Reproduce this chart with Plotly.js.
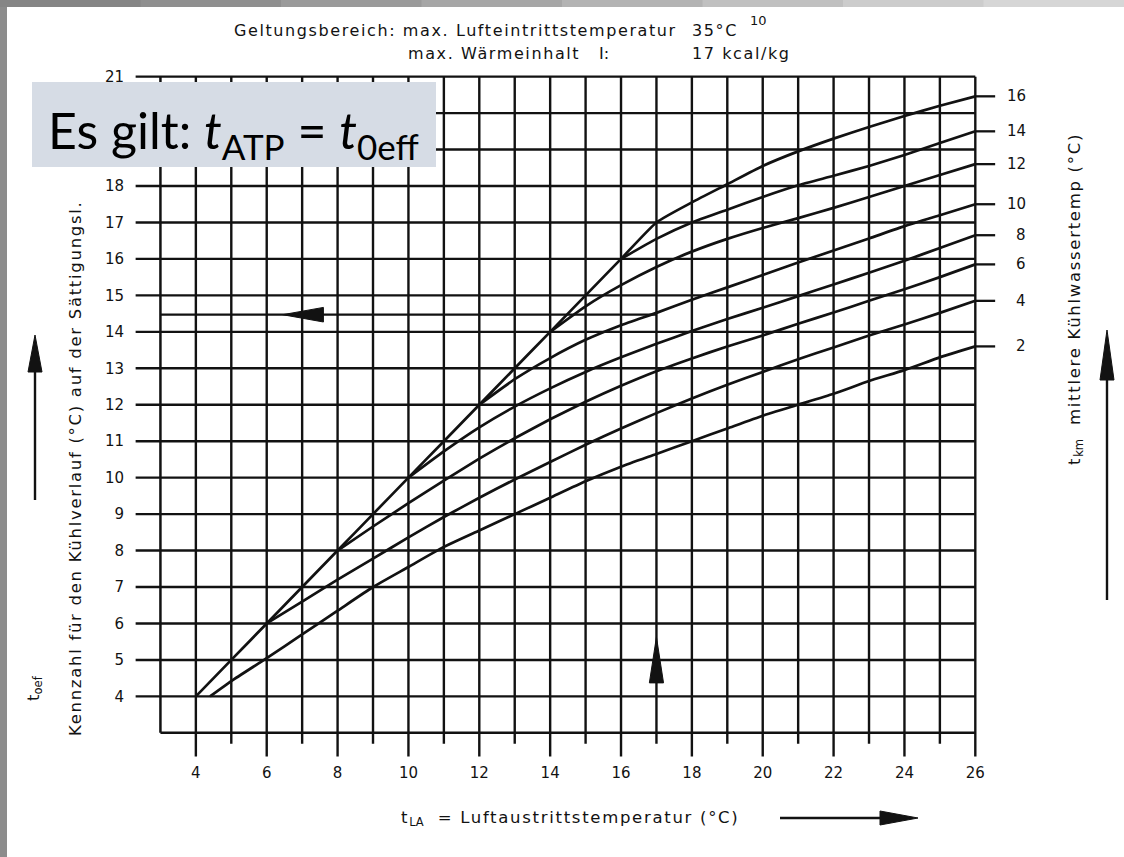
<!DOCTYPE html>
<html>
<head>
<meta charset="utf-8">
<script src="https://cdn.plot.ly/plotly-3.0.1.min.js"></script>
<style>
html,body{margin:0;padding:0;background:#ffffff;}
#chart{width:1124px;height:857px;}
</style>
</head>
<body>
<div id="chart"></div>
<script>
// ---------- data ----------
const xTickVals = [4, 6, 8, 10, 12, 14, 16, 18, 20, 22, 24, 26];
const yTickVals = [4, 5, 6, 7, 8, 9, 10, 11, 12, 13, 14, 15, 16, 17, 18, 21];
const xGridVals = [4, 5, 6, 7, 8, 9, 10, 11, 12, 13, 14, 15, 16, 17, 18, 19, 20, 21, 22, 23, 24, 25, 26];
const yGridVals = [4, 5, 6, 7, 8, 9, 10, 11, 12, 13, 14, 15, 16, 17, 18, 19, 20, 21];
const tkmLabels = [2, 4, 6, 8, 10, 12, 14, 16];

// t_LA (x) and t_oef (y) for each mean cooling-water temperature t_km
const tLA_2  = [4.4, 5, 6, 7, 8, 9, 10, 11, 12, 13, 14, 15, 16, 17, 18, 19, 20, 21, 22, 23, 24, 25, 26];
const tOef_2 = [4.0, 4.42, 5.05, 5.7, 6.35, 7.0, 7.55, 8.1, 8.55, 9.0, 9.45, 9.9, 10.3, 10.65, 11.0, 11.35, 11.7, 12.0, 12.3, 12.65, 12.95, 13.3, 13.6];
const tLA_4  = [6, 7, 8, 9, 10, 11, 12, 13, 14, 15, 16, 17, 18, 19, 20, 21, 22, 23, 24, 25, 26];
const tOef_4 = [6.0, 6.6, 7.2, 7.78, 8.36, 8.92, 9.45, 9.95, 10.43, 10.9, 11.35, 11.77, 12.17, 12.55, 12.9, 13.25, 13.57, 13.9, 14.2, 14.52, 14.85];
const tLA_6  = [8, 9, 10, 11, 12, 13, 14, 15, 16, 17, 18, 19, 20, 21, 22, 23, 24, 25, 26];
const tOef_6 = [8.0, 8.66, 9.3, 9.92, 10.52, 11.08, 11.6, 12.08, 12.52, 12.92, 13.27, 13.6, 13.9, 14.22, 14.53, 14.85, 15.17, 15.5, 15.85];
const tLA_8  = [10, 11, 12, 13, 14, 15, 16, 17, 18, 19, 20, 21, 22, 23, 24, 25, 26];
const tOef_8 = [10.0, 10.72, 11.38, 11.95, 12.45, 12.9, 13.3, 13.67, 14.02, 14.35, 14.66, 14.98, 15.3, 15.62, 15.95, 16.3, 16.65];
const tLA_10  = [12, 13, 14, 15, 16, 17, 18, 19, 20, 21, 22, 23, 24, 25, 26];
const tOef_10 = [12.0, 12.7, 13.28, 13.78, 14.18, 14.52, 14.88, 15.22, 15.56, 15.9, 16.23, 16.56, 16.9, 17.2, 17.5];
const tLA_12  = [14, 15, 16, 17, 18, 19, 20, 21, 22, 23, 24, 25, 26];
const tOef_12 = [14.0, 14.7, 15.28, 15.78, 16.2, 16.55, 16.85, 17.12, 17.4, 17.7, 18.0, 18.3, 18.6];
const tLA_14  = [16, 17, 18, 19, 20, 21, 22, 23, 24, 25, 26];
const tOef_14 = [16.0, 16.55, 17.0, 17.35, 17.7, 18.02, 18.28, 18.55, 18.85, 19.18, 19.5];
const tLA_16  = [4, 5, 6, 7, 8, 9, 10, 11, 12, 13, 14, 15, 16, 17, 18, 19, 20, 21, 22, 23, 24, 25, 26];
const tOef_16 = [4, 5, 6, 7, 8, 9, 10, 11, 12, 13, 14, 15, 16, 17, 17.55, 18.05, 18.55, 18.95, 19.3, 19.62, 19.92, 20.2, 20.46];

// reading example drawn in the chart
const exampleTLA = 17;
const exampleTOef = 14.47;

// ---------- layout geometry ----------
const W = 1124, H = 857;
const M = {l: 125, r: 92, t: 73, b: 95};
const PW = W - M.l - M.r, PH = H - M.t - M.b;
const XR = [2, 27.6], YR = [2.2, 21.1];
const px2x = p => (p - M.l) / PW;           // pixel -> paper x
const py2y = p => (H - M.b - p) / PH;       // pixel -> paper y
const INK = '#121212';
const SCANFONT = 'DejaVu Sans, Liberation Sans, sans-serif';
const sp = (t, s) => `<span style="letter-spacing:${s}px">${t}</span>`;

const curves = [
  [tLA_2, tOef_2], [tLA_4, tOef_4], [tLA_6, tOef_6], [tLA_8, tOef_8],
  [tLA_10, tOef_10], [tLA_12, tOef_12], [tLA_14, tOef_14], [tLA_16, tOef_16]
];

const traces = curves.map((c, i) => ({
  type: 'scatter', mode: 'lines', x: c[0], y: c[1],
  name: 't_km ' + tkmLabels[i],
  line: {color: INK, width: 2.7, shape: 'spline', smoothing: 0.5},
  hoverinfo: 'skip', showlegend: false
}));

const shapes = [];
const ln = (x0, y0, x1, y1, w) => shapes.push({type: 'line', xref: 'x', yref: 'y', x0, y0, x1, y1, line: {color: INK, width: w || 2.4}});

// vertical grid with ticks below the frame
xGridVals.forEach(v => ln(v, (v % 2 === 0) ? 2.35 : 2.7, v, 21));
// horizontal grid with ticks left of the frame
yGridVals.forEach(v => ln(2.3, v, 26, v));
// frame left / bottom
ln(3, 3, 3, 21, 2.5);
ln(3, 3, 26, 3, 2.5);
// curve end marks to the labels
curves.forEach(c => { const y = c[1][c[1].length - 1]; ln(26, y, 26.56, y, 2.3); });
// reading example
ln(3, exampleTOef, exampleTLA, exampleTOef, 2.3);

// arrowheads (paper coords from pixels)
const tri = (tip, b1, b2) => shapes.push({
  type: 'path', xref: 'paper', yref: 'paper',
  path: `M${px2x(tip[0])},${py2y(tip[1])} L${px2x(b1[0])},${py2y(b1[1])} L${px2x(b2[0])},${py2y(b2[1])} Z`,
  fillcolor: INK, line: {color: INK, width: 1}
});
const pline = (x0, y0, x1, y1, w) => shapes.push({type: 'line', xref: 'paper', yref: 'paper',
  x0: px2x(x0), y0: py2y(y0), x1: px2x(x1), y1: py2y(y1), line: {color: INK, width: w || 2.2}});

// inside example arrowheads (data coords)
const exHx = 6.45, exHb = 7.6;
shapes.push({type: 'path', xref: 'x', yref: 'y',
  path: `M${exHx},${exampleTOef} L${exHb},${exampleTOef + 0.2} L${exHb},${exampleTOef - 0.2} Z`,
  fillcolor: INK, line: {color: INK, width: 1}});
const exVt = 5.63, exVb = 4.37;
shapes.push({type: 'path', xref: 'x', yref: 'y',
  path: `M${exampleTLA},${exVt} L${exampleTLA - 0.2},${exVb} L${exampleTLA + 0.2},${exVb} Z`,
  fillcolor: INK, line: {color: INK, width: 1}});

// outer arrows
pline(35, 500, 35, 368, 2.4); tri([35, 335], [28, 372], [42, 372]);
pline(1107, 600, 1107, 378, 2.4); tri([1107, 330], [1100, 380], [1114, 380]);
pline(780, 818, 882, 818, 2.4); tri([918, 818], [880, 811], [880, 825]);

// slide frame (grey edges)
shapes.push({type: 'rect', xref: 'paper', yref: 'paper', x0: px2x(0), x1: px2x(7), y0: py2y(H), y1: py2y(0), fillcolor: '#8c8c8c', line: {width: 0}, layer: 'above'});
const greys = ['#858585', '#8f8f8f', '#9a9a9a', '#a6a6a6', '#b3b3b3', '#c0c0c0', '#cccccc', '#d6d6d6'];
greys.forEach((g, i) => shapes.push({type: 'rect', xref: 'paper', yref: 'paper',
  x0: px2x(i * W / greys.length), x1: px2x((i + 1) * W / greys.length + 1), y0: py2y(7), y1: py2y(0),
  fillcolor: g, line: {width: 0}, layer: 'above'}));

// info box
shapes.push({type: 'rect', xref: 'paper', yref: 'paper', x0: px2x(32), x1: px2x(436), y0: py2y(167), y1: py2y(82),
  fillcolor: '#d6dce5', line: {width: 0}, layer: 'above'});

const ann = (text, xp, yp, opts) => Object.assign({
  text, xref: 'paper', yref: 'paper', x: px2x(xp), y: py2y(yp), showarrow: false,
  xanchor: 'left', yanchor: 'middle', font: {family: SCANFONT, size: 16, color: INK}
}, opts || {});
const titleFont = {family: SCANFONT, size: 16.5, color: INK};
const LS = 1.6, TS = 1.7;

const annotations = [
  ann(sp('Geltungsbereich: max. Lufteintrittstemperatur', LS), 232, 31),
  ann(sp('35°C', LS), 690, 31),
  ann('10', 748, 20, {font: {family: SCANFONT, size: 13, color: INK}}),
  ann(sp('max. Wärmeinhalt', LS), 406, 54),
  ann('I:', 597, 54),
  ann(sp('17 kcal/kg', LS), 690, 54),
  ann(sp('Kennzahl für den Kühlverlauf (°C) auf der Sättigungsl.', TS), 76, 468,
      {xanchor: 'center', textangle: -90, font: titleFont}),
  ann('t<sub>oef</sub>', 34, 688, {xanchor: 'center', textangle: -90, font: titleFont}),
  ann(sp('t', TS) + '<sub>km</sub>' + sp('  mittlere Kühlwassertemp (°C)', TS), 1075, 299,
      {xanchor: 'center', textangle: -90, font: titleFont}),
  ann(sp('t', TS) + '<sub>LA</sub>' + sp('  = Luftaustrittstemperatur (°C)', TS), 570, 818,
      {xanchor: 'center', font: titleFont}),
  ann('Es gilt: <i>t</i><sub>ATP</sub> = <i>t</i><sub>0eff</sub>', 233, 133,
      {xanchor: 'center', font: {family: 'Lato, Open Sans, sans-serif', size: 50, color: '#000000'}})
];
// curve labels on the right
curves.forEach((c, i) => annotations.push({
  text: String(tkmLabels[i]), xref: 'x', yref: 'y', x: 27.5, y: c[1][c[1].length - 1],
  showarrow: false, xanchor: 'right', yanchor: 'middle',
  font: {family: SCANFONT, size: 15, color: INK}
}));

const tickFont = {family: SCANFONT, size: 15, color: INK};
const layout = {
  width: W, height: H,
  margin: M,
  paper_bgcolor: '#ffffff', plot_bgcolor: '#ffffff',
  showlegend: false,
  xaxis: {range: XR, showgrid: false, zeroline: false, showline: false, ticks: '',
          tickmode: 'array', tickvals: xTickVals, ticktext: xTickVals.map(String),
          tickfont: tickFont, fixedrange: true},
  yaxis: {range: YR, showgrid: false, zeroline: false, showline: false, ticks: '',
          tickmode: 'array', tickvals: yTickVals, ticktext: yTickVals.map(String),
          tickfont: tickFont, fixedrange: true},
  shapes, annotations
};

Plotly.newPlot('chart', traces, layout, {staticPlot: true, displayModeBar: false});
</script>
</body>
</html>
